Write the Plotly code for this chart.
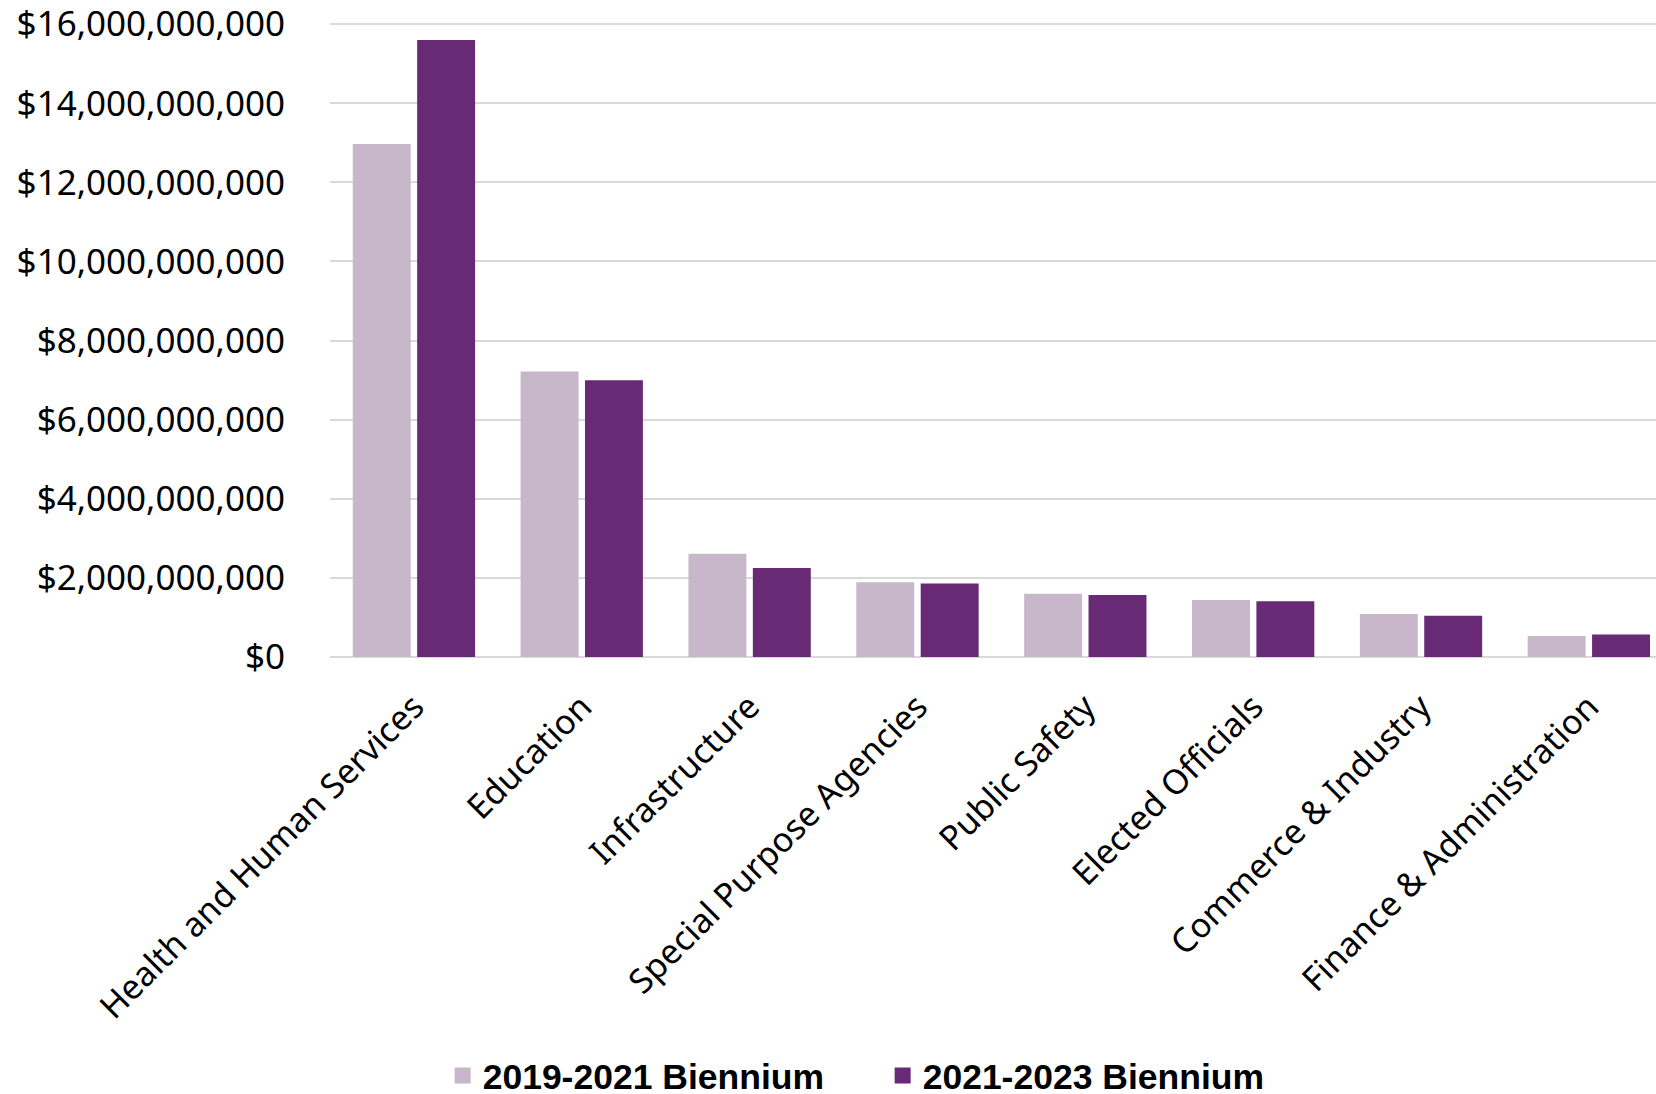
import plotly.graph_objects as go

categories = ["Health and Human Services", "Education", "Infrastructure",
              "Special Purpose Agencies", "Public Safety", "Elected Officials",
              "Commerce & Industry", "Finance & Administration"]
series_names = ["2019-2021 Biennium", "2021-2023 Biennium"]
values_2019 = [12.97e9, 7.22e9, 2.61e9, 1.89e9, 1.60e9, 1.44e9, 1.09e9, 0.53e9]
values_2021 = [15.60e9, 7.00e9, 2.25e9, 1.86e9, 1.57e9, 1.41e9, 1.04e9, 0.57e9]
y_ticks = [0, 2e9, 4e9, 6e9, 8e9, 10e9, 12e9, 14e9, 16e9]
y_tick_labels = ["$0", "$2,000,000,000", "$4,000,000,000", "$6,000,000,000",
                 "$8,000,000,000", "$10,000,000,000", "$12,000,000,000",
                 "$14,000,000,000", "$16,000,000,000"]

colors = ["#C8B6CB", "#682A75"]

W, H = 1656, 1094
fig = go.Figure()
for name, vals, col in zip(series_names, [values_2019, values_2021], colors):
    fig.add_trace(go.Bar(x=categories, y=vals, name=name, showlegend=False,
                         legendgroup=name,
                         marker=dict(color=col, line=dict(width=0))))
# legend entries with larger square swatches
for name, col in zip(series_names, colors):
    fig.add_trace(go.Scatter(x=[None], y=[None], mode="markers", name=name,
                             legendgroup=name, hoverinfo="skip",
                             marker=dict(symbol="square", size=21, color=col)))

fig.update_layout(
    width=W, height=H,
    margin=dict(l=329.5, r=0, t=23, b=437, pad=0, autoexpand=False),
    paper_bgcolor="white", plot_bgcolor="white",
    barmode="group", bargap=0.233, bargroupgap=0.1,
    font=dict(family="Noto Sans", color="#000000", size=34),
    showlegend=True,
    legend=dict(orientation="h", xref="container", yref="container",
                x=0.2673, y=0.0165, xanchor="left", yanchor="middle",
                font=dict(family="Liberation Sans", size=35.5,
                          color="#000000", weight="bold"),
                entrywidth=395, itemwidth=30, traceorder="normal"),
)
fig.update_xaxes(range=[-0.5, 7.40], showgrid=False, showline=False,
                 ticks="", tickangle=-45, tickfont=dict(size=34),
                 ticklabelstandoff=22)
fig.update_yaxes(range=[0, 16.03e9], tickvals=y_ticks, ticktext=y_tick_labels,
                 showgrid=True, gridcolor="#D9D9D9", gridwidth=2,
                 zeroline=True, zerolinecolor="#D9D9D9", zerolinewidth=2,
                 showline=False, ticks="", ticklabelstandoff=44,
                 ticklabeloverflow="allow", tickfont=dict(size=35))

fig.write_html("out.html", config={"displayModeBar": False}, post_script=(
    "document.body.style.margin='0';"
    "document.documentElement.style.overflow='hidden';"
    "document.body.style.overflow='hidden';"))
